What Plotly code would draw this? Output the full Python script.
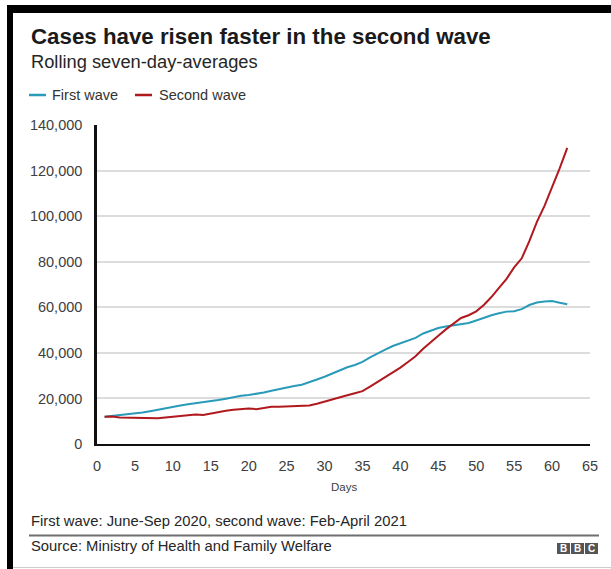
import plotly.graph_objects as go

# ---- data ----
days = list(range(1, 63))
first_wave = [12000, 12300, 12600, 13100, 13400, 13800, 14400, 15100, 15600, 16200,
              16900, 17400, 17800, 18200, 18700, 19300, 19900, 20600, 21200, 21500,
              21900, 22600, 23400, 24200, 24900, 25500, 26000, 27000, 28300, 29500,
              31000, 32200, 33700, 34700, 36000, 38000, 39800, 41400, 43000, 44300,
              45300, 46600, 48500, 49800, 50900, 51600, 52200, 52700, 53100, 54200,
              55500, 56500, 57400, 58100, 58300, 59200, 61000, 62100, 62500, 62800,
              62000, 61300]
second_wave = [12000, 12100, 11600, 11500, 11500, 11400, 11100, 11300, 11600, 11800,
               12300, 12600, 12900, 12700, 13400, 14100, 14600, 15000, 15400, 15600,
               15300, 15900, 16300, 16300, 16500, 16700, 16900, 16900, 17700, 18700,
               19500, 20500, 21400, 22300, 23200, 25200, 27300, 29500, 31500, 33500,
               36000, 38500, 41800, 44800, 47500, 50300, 53000, 55300, 56500, 58200,
               61000, 64500, 68500, 72500, 77500, 81500, 89000, 97500, 104500, 112500,
               121000, 130000]
x_ticks = [0, 5, 10, 15, 20, 25, 30, 35, 40, 45, 50, 55, 60, 65]
y_ticks = [0, 20000, 40000, 60000, 80000, 100000, 120000, 140000]
y_tick_labels = ["0", "20,000", "40,000", "60,000", "80,000", "100,000", "120,000", "140,000"]

title = "Cases have risen faster in the second wave"
subtitle = "Rolling seven-day-averages"
series_names = ["First wave", "Second wave"]
footnote = "First wave: June-Sep 2020, second wave: Feb-April 2021"
source = "Source: Ministry of Health and Family Welfare"

BLUE = "#2a9ab9"
RED = "#b0191e"
FONT = "Liberation Sans, Arial, sans-serif"

W, H = 611, 569
L, R, T, B = 97, 590, 125, 444


def px(x):
    return (x - L) / (R - L)


def py(y):
    return (B - y) / (B - T)


fig = go.Figure()
fig.add_trace(go.Scatter(x=days, y=first_wave, mode="lines", name=series_names[0],
                         line=dict(color=BLUE, width=2), showlegend=False))
fig.add_trace(go.Scatter(x=days, y=second_wave, mode="lines", name=series_names[1],
                         line=dict(color=RED, width=2), showlegend=False))

fig.update_layout(
    width=W, height=H,
    margin=dict(l=L, r=W - R, t=T, b=H - B, pad=0),
    paper_bgcolor="white", plot_bgcolor="white",
    font=dict(family=FONT, color="#404040"),
    xaxis=dict(range=[0, 65], tickvals=x_ticks, showgrid=False, zeroline=False,
               showline=True, linecolor="#111111", linewidth=2,
               ticks="", tickfont=dict(size=14.5, color="#404040"),
               ticklabelstandoff=8, fixedrange=True),
    yaxis=dict(range=[0, 140000], tickvals=y_ticks, ticktext=y_tick_labels,
               showgrid=True, gridcolor="#dcdcdc", gridwidth=1.5, zeroline=False,
               showline=True, linecolor="#111111", linewidth=2.5,
               ticks="", tickfont=dict(size=14.5, color="#404040"),
               ticklabelstandoff=9, fixedrange=True),
)

ann = []
ann.append(dict(text="<b>" + title + "</b>", x=px(29), y=py(36.5), xref="paper", yref="paper",
                xanchor="left", yanchor="middle", showarrow=False,
                font=dict(size=22.3, color="#1a1a1a", family=FONT)))
ann.append(dict(text=subtitle, x=px(29), y=py(62), xref="paper", yref="paper",
                xanchor="left", yanchor="middle", showarrow=False,
                font=dict(size=18.3, color="#262626", family=FONT)))
ann.append(dict(text=series_names[0], x=px(50), y=py(95), xref="paper", yref="paper",
                xanchor="left", yanchor="middle", showarrow=False,
                font=dict(size=14.5, color="#333333", family=FONT)))
ann.append(dict(text=series_names[1], x=px(157), y=py(95), xref="paper", yref="paper",
                xanchor="left", yanchor="middle", showarrow=False,
                font=dict(size=14.5, color="#333333", family=FONT)))
ann.append(dict(text="Days", x=px(343.5), y=py(487), xref="paper", yref="paper",
                xanchor="center", yanchor="middle", showarrow=False,
                font=dict(size=11.5, color="#404040", family=FONT)))
ann.append(dict(text=footnote, x=px(29), y=py(521), xref="paper", yref="paper",
                xanchor="left", yanchor="middle", showarrow=False,
                font=dict(size=14.8, color="#262626", family=FONT)))
ann.append(dict(text=source, x=px(29), y=py(546), xref="paper", yref="paper",
                xanchor="left", yanchor="middle", showarrow=False,
                font=dict(size=14.8, color="#262626", family=FONT)))
for i, letter in enumerate("BBC"):
    cx = 563.5 + i * 14
    ann.append(dict(text="<b>" + letter + "</b>", x=px(cx), y=py(548.5), xref="paper", yref="paper",
                    xanchor="center", yanchor="middle", showarrow=False,
                    font=dict(size=10, color="white", family=FONT)))

shapes = []
# legend swatches
shapes.append(dict(type="line", xref="paper", yref="paper", x0=px(29), x1=px(46), y0=py(95), y1=py(95),
                   line=dict(color=BLUE, width=2.5)))
shapes.append(dict(type="line", xref="paper", yref="paper", x0=px(135), x1=px(152), y0=py(95), y1=py(95),
                   line=dict(color=RED, width=2.5)))
# footer separator
shapes.append(dict(type="line", xref="paper", yref="paper", x0=px(29), x1=px(599), y0=py(535.5), y1=py(535.5),
                   line=dict(color="#6e6e6e", width=2)))
# BBC blocks
for i in range(3):
    x0 = 557 + i * 14
    shapes.append(dict(type="rect", xref="paper", yref="paper", x0=px(x0), x1=px(x0 + 13),
                       y0=py(543), y1=py(554), fillcolor="#555555", line=dict(width=0)))
# black screenshot borders
shapes.append(dict(type="rect", xref="paper", yref="paper", x0=px(7), x1=px(611), y0=py(5), y1=py(13),
                   fillcolor="black", line=dict(width=0)))
shapes.append(dict(type="rect", xref="paper", yref="paper", x0=px(7), x1=px(13), y0=py(5), y1=py(569),
                   fillcolor="black", line=dict(width=0)))
# bottom light border
shapes.append(dict(type="line", xref="paper", yref="paper", x0=px(13), x1=px(611), y0=py(567.5), y1=py(567.5),
                   line=dict(color="#cccccc", width=1)))

fig.update_layout(annotations=ann, shapes=shapes)
fig.write_html("out.html", config={"displayModeBar": False},
               post_script="document.body.style.margin='0';document.body.style.overflow='hidden';")
